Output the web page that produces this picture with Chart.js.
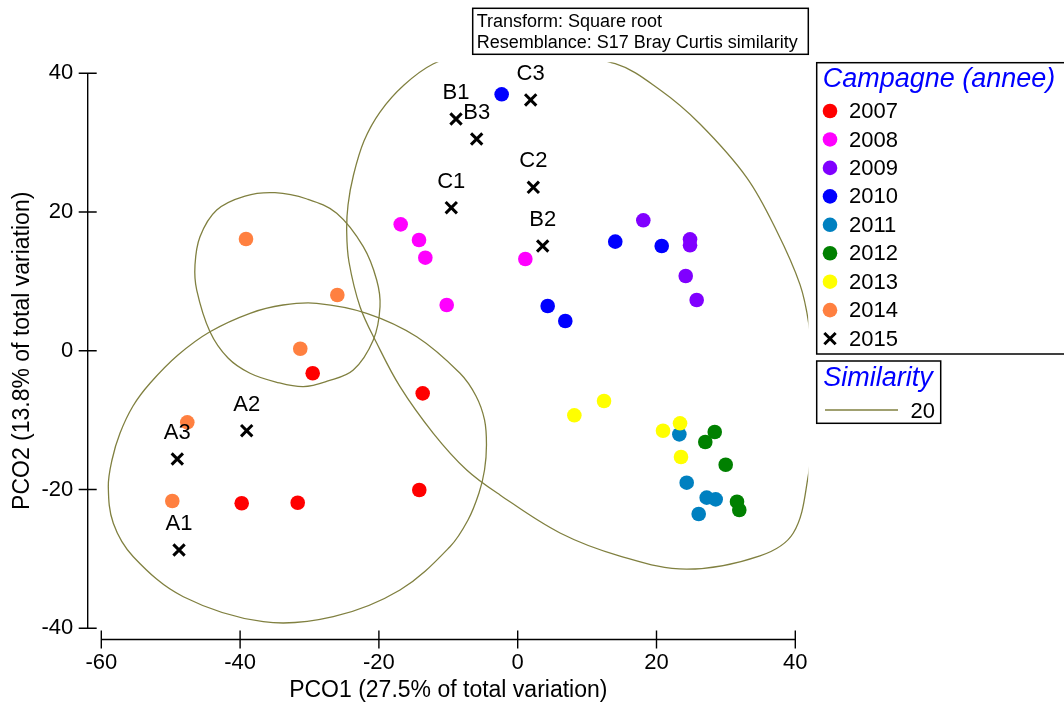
<!DOCTYPE html>
<html><head><meta charset="utf-8">
<script src="https://cdn.jsdelivr.net/npm/chart.js@4.4.1/dist/chart.umd.min.js"></script>
<style>html,body{margin:0;padding:0;background:#fff;}canvas{display:block;}</style>
</head><body>
<canvas id="c" width="1064" height="704"></canvas>
<script>
// ---------- data ----------
const years = ['2007','2008','2009','2010','2011','2012','2013','2014','2015'];
const yearColors = ['#ff0000','#ff00ff','#8000ff','#0000ff','#0080c0','#008000','#ffff00','#ff8040','#000000'];

const pts2007 = [[-29.54,-3.24],[-13.69,-6.13],[-39.77,-21.98],[-31.70,-21.90],[-14.18,-20.07]];
const pts2008 = [[-16.86,18.23],[-14.22,15.97],[-13.31,13.42],[-10.23,6.60],[1.10,13.23]];
const pts2009 = [[18.10,18.81],[24.83,16.07],[24.83,15.21],[24.21,10.78],[25.79,7.32]];
const pts2010 = [[-2.31,36.97],[14.06,15.73],[20.75,15.11],[4.32,6.46],[6.86,4.30]];
const pts2011 = [[23.29,-12.04],[24.35,-19.01],[27.23,-21.17],[28.53,-21.41],[26.08,-23.52]];
const pts2012 = [[28.39,-11.70],[27.03,-13.15],[29.97,-16.42],[31.60,-21.75],[31.93,-22.95]];
const pts2013 = [[8.16,-9.30],[12.44,-7.24],[20.94,-11.52],[23.39,-10.45],[23.53,-15.31]];
const pts2014 = [[-39.15,16.12],[-25.99,8.04],[-31.33,0.30],[-47.61,-10.31],[-49.77,-21.65]];
const pts2015 = [[-8.89,33.41],[-5.91,30.53],[1.87,36.16],[2.25,23.57],[-9.57,20.63],[3.60,15.11],[-39.05,-11.52],[-49.05,-15.60],[-48.80,-28.71]];
const labels2015 = ['B1','B3','C3','C2','C1','B2','A2','A3','A1'];

const xTicks = [-60,-40,-20,0,20,40];
const yTicks = [-40,-20,0,20,40];

// similarity 20 contours
const contourSmall = [[-34.97,22.79],[-30.36,21.88],[-26.08,19.82],[-22.25,15.01],[-20.32,10.21],[-19.84,6.36],[-20.81,1.56],[-23.69,-2.77],[-27.33,-4.35],[-30.89,-5.17],[-34.83,-4.50],[-38.57,-3.24],[-41.74,-1.04],[-44.34,2.75],[-46.25,8.76],[-46.50,12.37],[-45.78,16.45],[-43.37,20.30],[-39.29,22.31]];
const contourLower = [[-28.96,6.85],[-21.76,5.41],[-14.55,2.03],[-8.31,-3.24],[-6.01,-6.52],[-4.78,-9.97],[-4.50,-13.58],[-4.78,-17.18],[-5.58,-20.50],[-7.16,-24.39],[-9.76,-28.24],[-16.96,-34.48],[-26.57,-38.33],[-36.66,-39.05],[-48.18,-35.45],[-55.39,-29.68],[-58.27,-24.86],[-58.99,-19.59],[-58.46,-15.74],[-57.31,-11.89],[-55.43,-7.96],[-52.98,-4.68],[-48.95,-0.61],[-44.34,2.75],[-38.57,5.41],[-33.82,6.60]];
const contourBig = [[0.33,43.79],[14.05,41.38],[20.53,37.59],[26.27,32.69],[33.00,24.97],[37.32,17.27],[40.68,9.54],[41.97,3.72],[42.55,-2.75],[42.40,-11.40],[41.87,-17.99],[39.71,-26.26],[34.91,-29.56],[24.35,-31.48],[14.74,-29.58],[6.10,-26.26],[-2.55,-20.78],[-7.35,-17.18],[-12.16,-11.89],[-16.96,-5.17],[-20.32,1.12],[-22.72,6.36],[-24.31,12.80],[-24.64,17.12],[-24.45,21.02],[-23.66,25.34],[-22.15,30.24],[-19.84,34.42],[-16.38,38.31],[-12.20,41.34],[-6.87,43.07]];

const xTitle = 'PCO1 (27.5% of total variation)';
const yTitle = 'PCO2 (13.8% of total variation)';
const infoLines = ['Transform: Square root','Resemblance: S17 Bray Curtis similarity'];
const legendTitle = 'Campagne (annee)';
const simTitle = 'Similarity';
const simLevel = '20';

// ---------- chart ----------
const FONT = "'Liberation Sans', Arial, sans-serif";
const OLIVE = '#808040';
const toXY = a => a.map(p => ({x: p[0], y: p[1]}));
const allSeries = [pts2007,pts2008,pts2009,pts2010,pts2011,pts2012,pts2013,pts2014,pts2015];

const datasets = allSeries.map((s, i) => {
  const isCross = i === 8;
  return {
    label: years[i],
    data: toXY(s),
    pointStyle: isCross ? 'crossRot' : 'circle',
    pointRadius: isCross ? 8 : 7.3,
    pointBackgroundColor: yearColors[i],
    pointBorderColor: yearColors[i],
    pointBorderWidth: isCross ? 3 : 0,
    order: 100 - i,
    clip: false
  };
});
[contourSmall, contourLower, contourBig].forEach(c => {
  datasets.push({
    label: 'contour',
    data: toXY(c),
    showLine: true,
    pointRadius: 0,
    borderColor: OLIVE,
    borderWidth: 1.3,
    tension: 0.36,
    capBezierPoints: false,
    fill: false,
    closedCurve: true,
    order: 200,
    clip: {left: 30, top: 11, right: 13, bottom: 30}
  });
});

const loopPlugin = {
  id: 'loopPlugin',
  beforeDatasetDraw(chart, args) {
    const ds = chart.data.datasets[args.index];
    if (!ds.closedCurve) return;
    const line = args.meta.dataset;
    if (!line) return;
    line._loop = true; line._fullLoop = true;
    line._pointsUpdated = false; line._path = undefined; line._segments = undefined;
    line.updateControlPoints(chart.chartArea, 'x');
  }
};

const decorPlugin = {
  id: 'decor',
  afterDatasetsDraw(chart) {
    const ctx = chart.ctx;
    const meta = chart.getDatasetMeta(8);
    ctx.save();
    ctx.font = '22px ' + FONT;
    ctx.fillStyle = '#000';
    ctx.textAlign = 'center';
    ctx.textBaseline = 'alphabetic';
    meta.data.forEach((el, i) => ctx.fillText(labels2015[i], el.x, el.y - 20));
    ctx.restore();
  },
  afterDraw(chart) {
    const ctx = chart.ctx;
    const xs = chart.scales.x, ys = chart.scales.y;
    const area = chart.chartArea;
    ctx.save();
    ctx.strokeStyle = '#000';
    ctx.lineWidth = 1.4;
    // detached y axis
    const ax = area.left - 13.6;
    ctx.beginPath();
    ctx.moveTo(ax, ys.getPixelForValue(yTicks[yTicks.length-1]));
    ctx.lineTo(ax, ys.getPixelForValue(yTicks[0]));
    yTicks.forEach(v => { const p = ys.getPixelForValue(v); ctx.moveTo(ax - 9, p); ctx.lineTo(ax + 9, p); });
    ctx.stroke();
    // detached x axis
    const ay = area.bottom + 11.2;
    ctx.beginPath();
    ctx.moveTo(xs.getPixelForValue(xTicks[0]), ay);
    ctx.lineTo(xs.getPixelForValue(xTicks[xTicks.length-1]), ay);
    xTicks.forEach(v => { const p = xs.getPixelForValue(v); ctx.moveTo(p, ay - 9); ctx.lineTo(p, ay + 9); });
    ctx.stroke();

    // info box
    ctx.lineWidth = 1.5;
    ctx.fillStyle = '#fff';
    ctx.fillRect(472.7, 8.3, 335.6, 46);
    ctx.strokeRect(472.7, 8.3, 335.6, 46);
    ctx.fillStyle = '#000';
    ctx.font = '18px ' + FONT;
    ctx.textAlign = 'left';
    ctx.textBaseline = 'alphabetic';
    ctx.fillText(infoLines[0], 476.7, 26.5);
    ctx.fillText(infoLines[1], 476.7, 48);

    // legend box 1
    ctx.fillStyle = '#fff';
    ctx.fillRect(816.7, 62.7, 260, 291.3);
    ctx.strokeRect(816.7, 62.7, 260, 291.3);
    ctx.fillStyle = '#0000ff';
    ctx.font = 'italic 27px ' + FONT;
    ctx.fillText(legendTitle, 822.7, 87);
    ctx.font = '22px ' + FONT;
    chart.data.datasets.slice(0, 9).forEach((ds, i) => {
      const y = 111 + i * 28.45;
      ctx.save();
      ctx.fillStyle = ds.pointBackgroundColor;
      ctx.strokeStyle = ds.pointBorderColor;
      ctx.lineWidth = ds.pointBorderWidth;
      Chart.helpers.drawPoint(ctx, {pointStyle: ds.pointStyle, radius: i === 8 ? 8 : 7.3, rotation: 0, borderWidth: ds.pointBorderWidth}, 830, y);
      ctx.restore();
      ctx.fillStyle = '#000';
      ctx.textBaseline = 'middle';
      ctx.fillText(ds.label, 849, y + 1);
    });
    // legend box 2
    ctx.textBaseline = 'alphabetic';
    ctx.fillStyle = '#fff';
    ctx.fillRect(816.7, 361, 124, 62.3);
    ctx.strokeRect(816.7, 361, 124, 62.3);
    ctx.fillStyle = '#0000ff';
    ctx.font = 'italic 27px ' + FONT;
    ctx.fillText(simTitle, 823.3, 385.5);
    ctx.strokeStyle = OLIVE;
    ctx.lineWidth = 1.3;
    ctx.beginPath(); ctx.moveTo(825, 410); ctx.lineTo(898, 410); ctx.stroke();
    ctx.fillStyle = '#000';
    ctx.font = '22px ' + FONT;
    ctx.textAlign = 'right';
    ctx.fillText(simLevel, 935, 418);
    ctx.restore();
  }
};

new Chart(document.getElementById('c'), {
  type: 'scatter',
  data: {datasets},
  options: {
    responsive: false,
    animation: false,
    devicePixelRatio: 1,
    layout: {padding: {left: 0, top: 73.3, right: 268.7, bottom: 0}},
    plugins: {legend: {display: false}, tooltip: {enabled: false}},
    scales: {
      x: {
        type: 'linear', min: -60, max: 40,
        afterBuildTicks: s => { s.ticks = xTicks.map(v => ({value: v})); },
        afterFit: s => { s.height = 75.7; },
        grid: {display: false, drawTicks: false},
        border: {display: false},
        ticks: {color: '#000', font: {family: FONT, size: 22}, padding: 21, maxRotation: 0, autoSkip: false},
        title: {display: true, text: xTitle, color: '#000', font: {family: FONT, size: 23}, padding: {top: 0, bottom: 0}}
      },
      y: {
        type: 'linear', min: -40, max: 40,
        afterBuildTicks: s => { s.ticks = yTicks.map(v => ({value: v})); },
        afterFit: s => { s.width = 101.3; },
        grid: {display: false, drawTicks: false},
        border: {display: false},
        ticks: {color: '#000', font: {family: FONT, size: 22}, padding: 28, autoSkip: false},
        title: {display: true, text: yTitle, color: '#000', font: {family: FONT, size: 23}, padding: {top: 9, bottom: 0}}
      }
    }
  },
  plugins: [loopPlugin, decorPlugin]
});
</script>
</body></html>
